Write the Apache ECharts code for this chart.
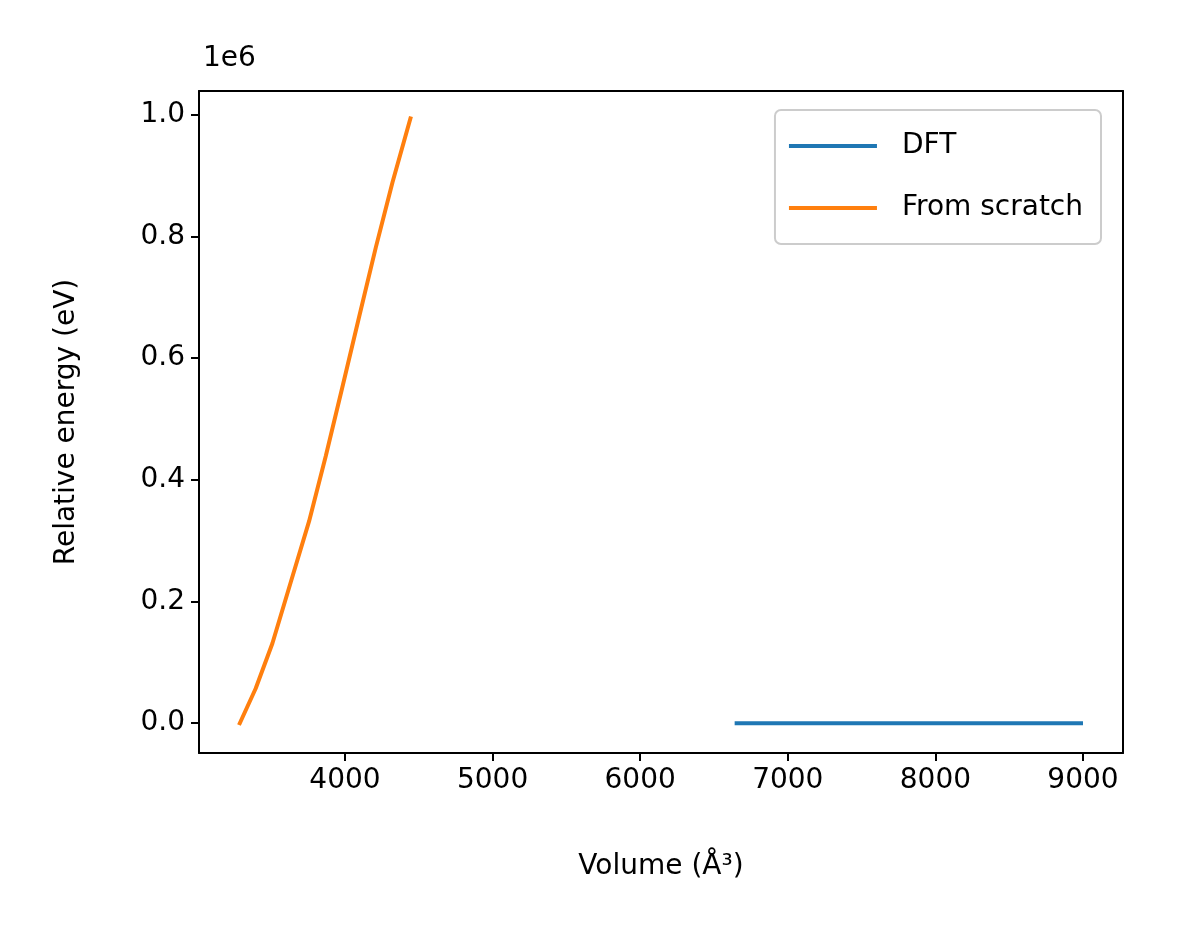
<!DOCTYPE html>
<html lang="en">
<head>
<meta charset="UTF-8">
<title>Relative energy vs volume</title>
<script src="https://cdn.jsdelivr.net/npm/echarts@6/dist/echarts.min.js"></script>
</head>
<body style="margin:0;background:#fff">
<div id="main" style="width:1181px;height:944px;"></div>
<script>
// DFT curve (flat at zero on this scale)
const dftVolume = [6640, 7000, 7500, 8000, 8500, 9000];
const dftEnergy = [0, 0, 0, 0, 0, 0];
// From scratch curve
const scratchVolume = [3282, 3395, 3508, 3633, 3757, 3870, 3983, 4096, 4209, 4322, 4447];
const scratchEnergy = [-3000, 57000, 131000, 232000, 332000, 439000, 553000, 668000, 782000, 889000, 997000];
// tick positions
const xTicks = [4000, 5000, 6000, 7000, 8000, 9000];
const yTicks = [0, 200000, 400000, 600000, 800000, 1000000];

const font = 'DejaVu Sans';
const black = { color: '#000', width: 2 };
const chart = echarts.init(document.getElementById('main'));
chart.setOption({
    animation: false,
    grid: { left: 199, right: 58, top: 91, bottom: 191 },
    graphic: [{ type: 'text', left: 203, top: 45, style: { text: '1e6', font: '28px ' + font, fill: '#000' } }],
    legend: {
        right: 80, top: 110, orient: 'vertical', itemWidth: 88, itemHeight: 4, itemGap: 34,
        padding: [22, 18, 22, 14], borderColor: '#ccc', borderWidth: 2, borderRadius: 6,
        textStyle: { fontFamily: font, fontSize: 28, color: '#000', padding: [0, 0, 0, 20] },
        icon: 'rect'
    },
    xAxis: [{
        type: 'value', min: 3011, max: 9271,
        name: 'Volume (Å³)', nameLocation: 'middle', nameGap: 100,
        nameTextStyle: { fontFamily: font, fontSize: 28, color: '#000' },
        axisLine: { onZero: false, lineStyle: black },
        axisTick: { length: 8, lineStyle: black, customValues: xTicks },
        axisLabel: { fontFamily: font, fontSize: 28, color: '#000', margin: 14,
            customValues: xTicks, formatter: v => String(v) },
        splitLine: { show: false }
    }, {
        type: 'value', min: 3011, max: 9271, position: 'top',
        axisLine: { onZero: false, lineStyle: black },
        axisTick: { show: false }, axisLabel: { show: false }, splitLine: { show: false }
    }],
    yAxis: [{
        type: 'value', min: -49000, max: 1039000,
        name: 'Relative energy (eV)', nameLocation: 'middle', nameGap: 118,
        nameTextStyle: { fontFamily: font, fontSize: 28, color: '#000' },
        axisLine: { show: true, onZero: false, lineStyle: black },
        axisTick: { length: 8, lineStyle: black, customValues: yTicks },
        axisLabel: { fontFamily: font, fontSize: 28, color: '#000', margin: 14,
            customValues: yTicks, formatter: v => (v / 1e6).toFixed(1) },
        splitLine: { show: false }
    }, {
        type: 'value', min: -49000, max: 1039000, position: 'right',
        axisLine: { show: true, onZero: false, lineStyle: black },
        axisTick: { show: false }, axisLabel: { show: false }, splitLine: { show: false }
    }],
    series: [
        { name: 'DFT', type: 'line', showSymbol: false, data: dftVolume.map((v, i) => [v, dftEnergy[i]]),
          lineStyle: { color: '#1f77b4', width: 4 }, itemStyle: { color: '#1f77b4' } },
        { name: 'From scratch', type: 'line', showSymbol: false, data: scratchVolume.map((v, i) => [v, scratchEnergy[i]]),
          lineStyle: { color: '#ff7f0e', width: 4 }, itemStyle: { color: '#ff7f0e' } }
    ]
});
</script>
</body>
</html>
